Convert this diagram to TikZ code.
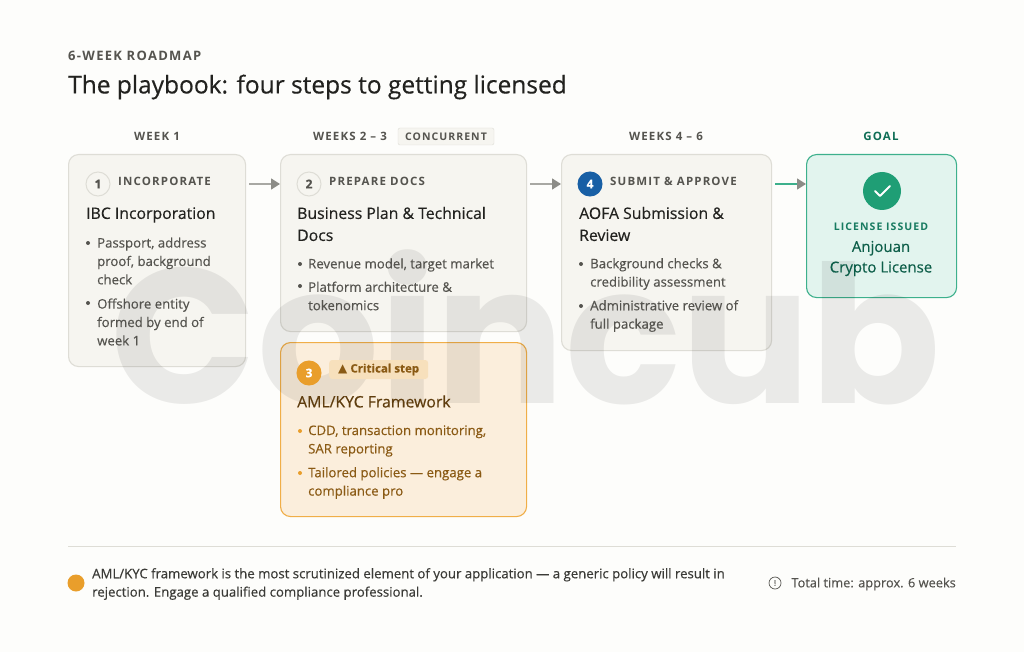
\documentclass[tikz,border=0pt]{standalone}
\usepackage{fontspec}
\usepackage{xcolor}
\usetikzlibrary{positioning,shapes,arrows.meta,calc}
\setmainfont[FakeBold=0.4]{Open Sans}
\newfontfamily\capsfont[LetterSpace=10]{Open Sans}
\newfontfamily\symfont{DejaVu Sans}
\newfontfamily\markfont{Poppins}
\definecolor{pagebg}{HTML}{FDFDFB}
\definecolor{cardfill}{HTML}{F6F5F0}
\definecolor{cardline}{HTML}{DEDDD6}
\definecolor{inktitle}{HTML}{22221F}
\definecolor{inkbody}{HTML}{55544F}
\definecolor{orangefill}{HTML}{FBEEDC}
\definecolor{orangeline}{HTML}{F0AE48}
\definecolor{orangedot}{HTML}{E99E2B}
\definecolor{orangeink}{HTML}{8A5A14}
\definecolor{orangedark}{HTML}{5F3D0E}
\definecolor{pillfill}{HTML}{F7E0BC}
\definecolor{goalfill}{HTML}{E2F4EE}
\definecolor{goalline}{HTML}{3DB08C}
\definecolor{goaldot}{HTML}{1F9E75}
\definecolor{goalink}{HTML}{0F6E56}
\definecolor{stepblue}{HTML}{185FA5}
\definecolor{arrowline}{HTML}{A8A8A3}
\definecolor{arrowtip}{HTML}{8C8C87}
\tikzset{
  card/.style={draw=cardline, fill=cardfill, line width=1.1pt, rounded corners=10pt, inner sep=0pt, anchor=north west},
  weeklabel/.style={font=\capsfont\fontsize{11.5}{14}\selectfont\bfseries, text=inkbody, inner sep=0pt},
  steplabel/.style={font=\capsfont\fontsize{11.5}{14}\selectfont\bfseries, text=inkbody, inner sep=0pt, anchor=west},
  steptitle/.style={font=\fontsize{15.8}{22}\selectfont, text=inktitle, inner sep=0pt, anchor=west, align=left},
  stepitem/.style={font=\fontsize{13.2}{18.4}\selectfont, text=inkbody, inner sep=0pt, anchor=west, align=left},
  stepbadge/.style={circle, draw=cardline, fill=cardfill, line width=1pt, minimum size=24pt, inner sep=0pt, text=inkbody, font=\fontsize{12}{14}\selectfont\bfseries},
  flowarrow/.style={line width=1.6pt, draw=#1, -{Triangle[length=9pt,width=11pt,fill=arrowtip,color=arrowtip]}, shorten <=3pt},
}
\begin{document}
\begin{tikzpicture}[x=1pt,y=-1pt]
\useasboundingbox (0,0) rectangle (1024,652);
\fill[pagebg] (0,0) rectangle (1024,652);

% Heading
\node[font=\capsfont\fontsize{13}{15}\selectfont\bfseries, text=inkbody, inner sep=0pt, anchor=west] (kicker) at (68,56) {6-WEEK ROADMAP};
\node[font=\fontsize{24.5}{28}\selectfont, text=inktitle, inner sep=0pt, anchor=west] (headline) at (68,87) {The playbook: four steps to getting licensed};

% Column labels
\node[weeklabel] (week1) at (157,136.5) {WEEK 1};
\node[weeklabel] (week2) at (350,136.5) {WEEKS 2 – 3};
\node[draw=cardline, fill=cardfill, rounded corners=2pt, minimum width=96pt, minimum height=17pt, inner sep=0pt, font=\capsfont\fontsize{10.5}{12}\selectfont\bfseries, text=inkbody] (concurrent) at (446,136.5) {CONCURRENT};
\node[weeklabel] (week4) at (666,136.5) {WEEKS 4 – 6};
\node[weeklabel, text=goalink] (goallabel) at (881,136.5) {GOAL};

% Cards
\node[card, minimum width=177pt, minimum height=212pt] (card1) at (68,154) {};
\node[card, minimum width=246pt, minimum height=177pt] (card2) at (280,154) {};
\node[card, minimum width=246pt, minimum height=174pt, draw=orangeline, fill=orangefill] (card3) at (280,342) {};
\node[card, minimum width=210pt, minimum height=196pt] (card4) at (561,154) {};
\node[card, minimum width=150pt, minimum height=143pt, draw=goalline, fill=goalfill] (goal) at (806,154) {};

% Watermark
\node[font=\markfont\fontsize{192}{200}\selectfont\bfseries, text=black, text opacity=0.075, inner sep=0pt, anchor=base] (watermark) at (526,403) {Coincub};

% Badges
\node[stepbadge] (badge1) at (98,184) {1};
\node[stepbadge] (badge2) at (309,184) {2};
\node[stepbadge, draw=orangedot, fill=orangedot, text=white] (badge3) at (309,373) {3};
\node[stepbadge, draw=stepblue, fill=stepblue, text=white] (badge4) at (590,184) {4};

% Step 1
\node[steplabel] (label1) at (118,181.5) {INCORPORATE};
\node[steptitle] (title1) at (86,215) {IBC Incorporation};
\fill[inkbody] (88,243) circle (2pt);
\node[stepitem] (item1a) at (97,261) {Passport, address\\proof, background\\check};
\fill[inkbody] (88,303) circle (2pt);
\node[stepitem] (item1b) at (97,322) {Offshore entity\\formed by end of\\week 1};

% Step 2
\node[steplabel] (label2) at (329,181.5) {PREPARE DOCS};
\node[steptitle] (title2) at (297,224) {Business Plan \& Technical\\Docs};
\fill[inkbody] (300,264) circle (2pt);
\node[stepitem] (item2a) at (308,265) {Revenue model, target market};
\fill[inkbody] (300,286) circle (2pt);
\node[stepitem] (item2b) at (308,296) {Platform architecture \&\\tokenomics};

% Step 3
\node[fill=pillfill, rounded corners=3pt, minimum width=99pt, minimum height=19pt, inner sep=0pt, anchor=west] (critical) at (329,369.5) {};
\node[font=\fontsize{11.5}{15}\selectfont\bfseries, text=orangeink, inner sep=0pt] (criticaltext) at (critical.center) {{\symfont\fontsize{12}{12}\selectfont ▲} Critical step};
\node[steptitle, text=orangedark] (title3) at (297,401.5) {AML/KYC Framework};
\fill[orangedot] (300,431) circle (2pt);
\node[stepitem, text=orangeink] (item3a) at (308,441) {CDD, transaction monitoring,\\SAR reporting};
\fill[orangedot] (300,473) circle (2pt);
\node[stepitem, text=orangeink] (item3b) at (308,483) {Tailored policies — engage a\\compliance pro};

% Step 4
\node[steplabel] (label4) at (610,181.5) {SUBMIT \& APPROVE};
\node[steptitle] (title4) at (579,224) {AOFA Submission \&\\Review};
\fill[inkbody] (581,264) circle (2pt);
\node[stepitem] (item4a) at (590,274) {Background checks \&\\credibility assessment};
\fill[inkbody] (581,306) circle (2pt);
\node[stepitem] (item4b) at (590,316) {Administrative review of\\full package};

% Goal
\node[circle, fill=goaldot, minimum size=38pt, inner sep=0pt] (goalcheck) at (882,191) {};
\draw[white, line width=2pt, line cap=round, line join=round] ($(goalcheck)+(-7,0)$) -- ($(goalcheck)+(-2,5)$) -- ($(goalcheck)+(8,-5)$);
\node[font=\capsfont\fontsize{10.5}{14}\selectfont\bfseries, text=goalink!80!goalline, inner sep=0pt] (issued) at (881,227) {LICENSE ISSUED};
\node[font=\fontsize{15}{20.5}\selectfont, text=goalink!85!black, inner sep=0pt, align=center] (license) at (881,258.5) {Anjouan\\Crypto License};

% Arrows
\draw[flowarrow=arrowline] (card1.east |- badge1) -- (card2.west |- badge1);
\draw[flowarrow=arrowline] (card2.east |- badge1) -- (card4.west |- badge1);
\draw[flowarrow=goalline] (card4.east |- badge1) -- (goal.west |- badge1);

% Footer
\coordinate (ruleleft) at (68,546);
\coordinate (ruleright) at (956,546);
\draw[cardline, line width=1pt] (ruleleft) -- (ruleright);
\node[circle, fill=orangedot, minimum size=17pt, inner sep=0pt] (footdot) at (76,583) {};
\node[stepitem, text=inkbody!70!black] (footnote) at (92,584) {AML/KYC framework is the most scrutinized element of your application — a generic policy will result in\\rejection. Engage a qualified compliance professional.};
\node[circle, draw=inkbody, line width=0.7pt, minimum size=12pt, inner sep=0pt, font=\fontsize{8}{9}\selectfont, text=inkbody] (infomark) at (775,583) {!};
\node[stepitem, anchor=east, font=\fontsize{12.8}{18.4}\selectfont] (totaltime) at (956,584) {Total time: approx. 6 weeks};
\end{tikzpicture}
\end{document}
